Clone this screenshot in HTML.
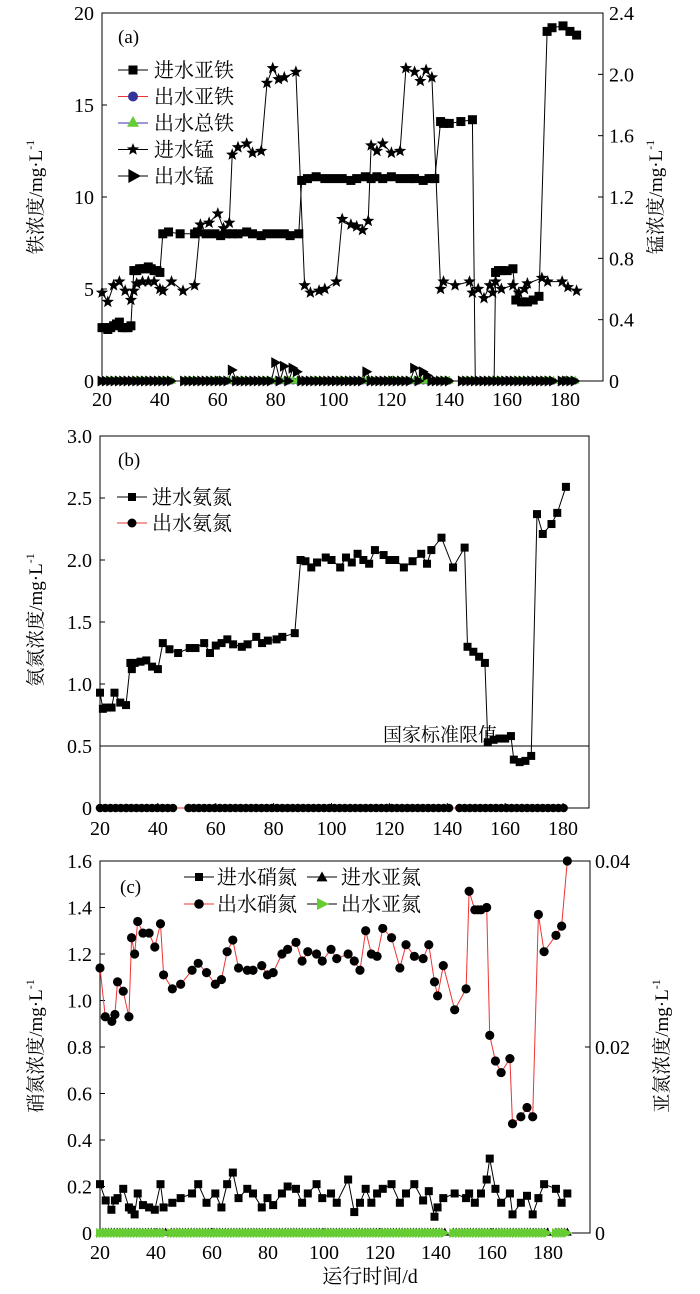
<!DOCTYPE html>
<html><head><meta charset="utf-8"><style>
body{margin:0;background:#fff}
svg{display:block}
text{font-family:"Liberation Serif","Noto Serif CJK SC",serif;fill:#000}
.cj{font-family:"Liberation Serif","Noto Serif CJK SC","Noto Sans CJK SC",serif}
</style></head><body>
<svg id="s" width="700" height="1294" viewBox="0 0 700 1294" xmlns="http://www.w3.org/2000/svg"></svg>
<script>
const S=document.getElementById('s');let h='';
function L(x1,y1,x2,y2,c='#000',w=1){h+=`<line x1="${x1}" y1="${y1}" x2="${x2}" y2="${y2}" stroke="${c}" stroke-width="${w}"/>`;}
function T(x,y,t,sz=18,a='middle',ex=''){h+=`<text x="${x}" y="${y}" font-size="${sz}" text-anchor="${a}" ${ex}>${t}</text>`;}
function poly(pts,c='#000',w=1){h+=`<polyline points="${pts.map(p=>p[0].toFixed(1)+','+p[1].toFixed(1)).join(' ')}" fill="none" stroke="${c}" stroke-width="${w}"/>`;}
function sq(x,y,s=9,c='#000'){h+=`<rect x="${x-s/2}" y="${y-s/2}" width="${s}" height="${s}" fill="${c}"/>`;}
function ci(x,y,r=4.3,c='#000'){h+=`<circle cx="${x}" cy="${y}" r="${r}" fill="${c}"/>`;}
function star(x,y,r=6.5){let p=[];for(let i=0;i<10;i++){let a=-Math.PI/2+i*Math.PI/5,rr=i%2?r*0.42:r;p.push((x+rr*Math.cos(a)).toFixed(1)+','+(y+rr*Math.sin(a)).toFixed(1));}h+=`<polygon points="${p.join(' ')}" fill="#000"/>`;}
function tri(x,y,s=5,c='#6c3'){h+=`<polygon points="${x},${y-s} ${x+s},${y+s*0.8} ${x-s},${y+s*0.8}" fill="${c}"/>`;}
function rtri(x,y,s=5.5,c='#000'){h+=`<polygon points="${x-s*0.8},${y-s} ${x+s},${y} ${x-s*0.8},${y+s}" fill="${c}"/>`;}
function ylab(x,y,t){h+=`<text class="cj" x="${x}" y="${y}" font-size="19" text-anchor="middle" transform="rotate(-90 ${x} ${y})">${t}/mg·L<tspan font-size="12" dy="-8">-1</tspan></text>`;}

/* ---------- Panel a ---------- */
{const X0=102,X1=603,Y0=381,Y1=13;const xd=d=>X0+(d-20)*2.894,yv=v=>Y0-v*18.4;
h+=`<rect x="${X0}" y="${Y1}" width="${X1-X0}" height="${Y0-Y1}" fill="none" stroke="#000"/>`;
for(let v=0;v<=20;v+=5){L(X0,yv(v),X0+5,yv(v));T(X0-8,yv(v)+7,v,20,'end');}
for(let i=0;i<=6;i++){let y=Y0-i*(Y0-Y1)/6;L(X1-5,y,X1,y);T(X1+6,y+7,i==0?'0':(i*0.4).toFixed(1),20,'start');}
for(let d=20;d<=180;d+=20){L(xd(d),Y0,xd(d),Y0-5);T(xd(d),Y0+25,d,20);}
// bottom markers
let bd=[];for(let d=20;d<=184;d+=1.5){if((d>44&&d<48)||(d>140&&d<144)||(d>176&&d<178))continue;bd.push(d);}
poly(bd.map(d=>[xd(d),yv(0)]),'#33a',1);
bd.forEach(d=>ci(xd(d),yv(0),3.5,'#339'));
bd.forEach(d=>tri(xd(d),yv(0)-1,4.5));
const mnE={65:0.6,78:1.2,80:1.0,83:0.8,86:0.7,88:0.5,112:0.5,126:0.9,128:0.7,131:0.5,133:0.3};
let mp=bd.map(d=>{let k=Math.round(d);return [xd(d),yv(mnE[k]||0)]});
poly(mp);mp.forEach(p=>rtri(p[0],p[1]));
// Fe influent
const fe=[[20,2.9],[21,2.9],[22,2.8],[23,2.9],[24,3.0],[25,3.1],[26,3.2],[27,2.9],[28,2.9],[29,2.9],[30,3.0],[31,6.0],[32,6.0],[33,6.1],[34,6.1],[35,6.1],[36,6.2],[37,6.1],[38,6.0],[39,6.0],[40,5.9],[41,8.0],[43,8.1],[47,8.0],[52,8.0],[53,8.1],[56,8.0],[59,8.0],[61,7.9],[63,8.0],[65,8.0],[67,8.0],[70,8.1],[72,8.0],[75,7.9],[77,8.0],[80,8.0],[83,8.0],[85,7.9],[88,8.0],[89,10.9],[91,11.0],[94,11.1],[97,11.0],[100,11.0],[103,11.0],[106,10.9],[108,11.0],[111,11.1],[113,11.0],[115,11.1],[117,11.0],[120,11.1],[123,11.0],[126,11.0],[128,11.0],[131,10.9],[133,11.0],[135,11.0],[137,14.1],[138,14.0],[140,14.0],[144,14.1],[148,14.2],[149,0],[155.5,0],[156,5.9],[157,6.0],[158,6.0],[160,6.0],[162,6.1],[163,4.4],[165,4.3],[167,4.3],[169,4.4],[171,4.6],[173.8,19.0],[175.5,19.2],[179.3,19.3],[181.7,19.0],[184,18.8]];
poly(fe.map(p=>[xd(p[0]),yv(p[1])]));fe.forEach(p=>{if(p[1]>0)sq(xd(p[0]),yv(p[1]))});
const mn=[[20,4.8],[22,4.3],[24,5.2],[26,5.4],[28,4.9],[30,4.4],[31,4.9],[32,5.3],[34,5.4],[36,5.4],[38,5.4],[40,5.0],[41,4.9],[44,5.4],[48,4.9],[52,5.2],[54,8.5],[57,8.6],[60,9.1],[62,8.3],[64,8.6],[65,12.3],[67,12.7],[70,12.9],[72,12.4],[75,12.5],[77,16.2],[79,17.0],[81,16.4],[83,16.5],[87,16.8],[90,5.2],[92,4.8],[95,4.9],[97,5.0],[101,5.4],[103,8.8],[106,8.5],[108,8.4],[110,8.2],[112,8.7],[113,12.8],[115,12.5],[117,12.9],[120,12.4],[123,12.5],[125,17.0],[128,16.8],[130,16.3],[132,16.9],[134,16.5],[137,5.0],[138,5.4],[142,5.2],[147,5.4],[148,4.8],[150,5.0],[152,4.5],[154,5.2],[155,4.8],[156,5.4],[158,5.0],[162,5.2],[164,4.8],[166,5.0],[167,5.3],[172,5.6],[174,5.4],[179,5.4],[181,5.1],[184,4.9]];
poly(mn.map(p=>[xd(p[0]),yv(p[1])]));mn.forEach(p=>star(xd(p[0]),yv(p[1])));
T(118,43,'(a)',19,'start');
const lg=[['进水亚铁','#000','sq'],['出水亚铁','#e33','ci'],['出水总铁','#33a','tri'],['进水锰','#000','star'],['出水锰','#000','rtri']];
lg.forEach((g,i)=>{let y=70+i*26.5;L(118,y,148,y,g[1]);let m=g[2];
 if(m=='sq')sq(133,y);if(m=='ci')ci(133,y,5,'#339');if(m=='tri')tri(133,y-1,6);if(m=='star')star(133,y);if(m=='rtri')rtri(134,y,7);
 h+=`<text class="cj" x="154" y="${y+7}" font-size="20">${g[0]}</text>`;});
ylab(42,197,'铁浓度');ylab(662,197,'锰浓度');
}
/* ---------- Panel b ---------- */
{const X0=100,X1=589,Y0=808,Y1=436;const xd=d=>X0+(d-20)*2.894,yv=v=>Y0-v*124;
h+=`<rect x="${X0}" y="${Y1}" width="${X1-X0}" height="${Y0-Y1}" fill="none" stroke="#000"/>`;
for(let v=0;v<=3.001;v+=0.5){L(X0,yv(v),X0+5,yv(v));T(X0-8,yv(v)+7,v==0?'0':v.toFixed(1),20,'end');}
for(let d=20;d<=180;d+=20){L(xd(d),Y0,xd(d),Y0-5);T(xd(d),Y0+27,d,20);}
L(X0,yv(0.5),X1,yv(0.5));h+=`<text class="cj" x="497" y="741" font-size="19" text-anchor="end">国家标准限值</text>`;
let bd=[];for(let d=20;d<=182;d+=1.8){if((d>46&&d<49)||(d>141&&d<143))continue;bd.push(d);}
poly(bd.map(d=>[xd(d),yv(0)]),'#e33');bd.forEach(d=>ci(xd(d),yv(0),4.3));
const nh=[[20,0.93],[21,0.80],[22,0.81],[24,0.81],[25,0.93],[27,0.85],[29,0.83],[30.5,1.17],[31,1.12],[32,1.17],[34,1.18],[36,1.19],[38,1.14],[40,1.12],[41.7,1.33],[44,1.28],[47,1.25],[51,1.29],[53,1.29],[56,1.33],[58,1.25],[60,1.31],[62,1.33],[64,1.36],[66,1.32],[69,1.30],[71,1.32],[74,1.38],[76,1.33],[78,1.35],[81,1.36],[83,1.38],[87.3,1.41],[89.3,2.00],[91,1.99],[93,1.94],[95,1.98],[98,2.02],[100,2.00],[103,1.94],[105,2.02],[107,1.98],[109,2.05],[111,2.00],[113,1.97],[115,2.08],[118,2.04],[120,2.00],[122,2.00],[125,1.94],[128,1.99],[131,2.05],[133,1.97],[134.5,2.08],[138,2.18],[142,1.94],[146,2.10],[147,1.30],[149,1.26],[151,1.22],[153,1.17],[154,0.53],[156,0.55],[158,0.56],[160,0.56],[162,0.58],[163,0.39],[165,0.37],[167,0.38],[169,0.42],[171,2.37],[173,2.21],[176,2.29],[178,2.38],[181,2.59]];
poly(nh.map(p=>[xd(p[0]),yv(p[1])]));nh.forEach(p=>sq(xd(p[0]),yv(p[1]),8));
T(118,466,'(b)',19,'start');
L(117,497,147,497);sq(132,497,8);h+=`<text class="cj" x="152" y="504" font-size="20">进水氨氮</text>`;
L(117,523,147,523,'#e33');ci(132,523,4.5);h+=`<text class="cj" x="152" y="530" font-size="20">出水氨氮</text>`;
ylab(42,620,'氨氮浓度');
}
/* ---------- Panel c ---------- */
{const X0=100,X1=590,Y0=1233,Y1=861;const xz=z=>X0+(z-228)*0.4384,yv=v=>Y0-v*232.5;
h+=`<rect x="${X0}" y="${Y1}" width="${X1-X0}" height="${Y0-Y1}" fill="none" stroke="#000"/>`;
for(let i=0;i<=8;i++){let v=i*0.2;L(X0,yv(v),X0+5,yv(v));T(X0-8,yv(v)+7,i==0?'0':v.toFixed(1),20,'end');}
[[0,'0'],[0.8,'0.02'],[1.6,'0.04']].forEach(a=>{L(X1-5,yv(a[0]),X1,yv(a[0]));T(X1+5,yv(a[0])+7,a[1],20,'start');});
for(let d=20;d<=180;d+=20){let x=100+(d-20)*2.8;L(x,Y0,x,Y0-5);T(x,Y0+26,d,20);}
let bz=[];for(let z=228;z<=1296;z+=6.5){if((z>380&&z<388)||(z>1020&&z<1030)||(z>1250&&z<1262))continue;bz.push(z);}
poly(bz.map(z=>[xz(z),yv(0)]),'#000');bz.forEach(z=>tri(xz(z),yv(0)-1,4.5,'#000'));
poly(bz.map(z=>[xz(z),yv(0)]),'#6c3');bz.forEach(z=>{let x=xz(z),y=yv(0);h+=`<polygon points="${x-4},${y-5} ${x+5},${y} ${x-4},${y+5}" fill="#6c3"/>`;});
const en=[[228,1.14],[240,0.93],[255,0.91],[262,0.94],[268,1.08],[281,1.04],[294,0.93],[300,1.27],[307,1.20],[314,1.34],[326,1.29],[340,1.29],[353,1.23],[366,1.33],[373,1.11],[393,1.05],[412,1.07],[438,1.13],[452,1.16],[471,1.12],[491,1.07],[505,1.09],[518,1.21],[531,1.26],[544,1.14],[564,1.13],[577,1.13],[597,1.15],[610,1.11],[623,1.12],[643,1.20],[656,1.22],[675,1.25],[689,1.17],[702,1.21],[722,1.20],[735,1.17],[755,1.22],[768,1.18],[794,1.20],[808,1.17],[821,1.13],[834,1.30],[847,1.20],[860,1.19],[873,1.31],[893,1.27],[912,1.14],[926,1.24],[945,1.19],[965,1.18],[978,1.24],[991,1.08],[998,1.02],[1011,1.15],[1037,0.96],[1063,1.05],[1070,1.47],[1083,1.39],[1090,1.39],[1097,1.39],[1110,1.40],[1117,0.85],[1130,0.74],[1143,0.69],[1163,0.75],[1169,0.47],[1188,0.50],[1202,0.54],[1215,0.50],[1228,1.37],[1241,1.21],[1268,1.28],[1281,1.32],[1294,1.60]];
const inn=[[228,0.21],[241,0.14],[254,0.10],[262,0.14],[268,0.15],[281,0.19],[294,0.11],[300,0.10],[307,0.08],[314,0.17],[326,0.12],[340,0.11],[353,0.10],[366,0.21],[373,0.11],[393,0.13],[412,0.15],[438,0.17],[452,0.21],[471,0.13],[491,0.17],[505,0.11],[518,0.21],[531,0.26],[544,0.15],[564,0.19],[577,0.17],[597,0.11],[610,0.15],[623,0.12],[643,0.17],[656,0.20],[675,0.19],[689,0.13],[702,0.17],[722,0.21],[735,0.15],[755,0.17],[768,0.13],[794,0.23],[808,0.09],[821,0.13],[834,0.19],[847,0.13],[860,0.17],[873,0.19],[893,0.21],[912,0.13],[926,0.17],[945,0.21],[965,0.14],[978,0.18],[991,0.07],[998,0.11],[1011,0.15],[1037,0.17],[1063,0.15],[1070,0.17],[1083,0.13],[1097,0.17],[1110,0.23],[1117,0.32],[1130,0.19],[1143,0.13],[1163,0.17],[1169,0.08],[1188,0.13],[1202,0.16],[1215,0.08],[1228,0.15],[1241,0.21],[1268,0.19],[1281,0.13],[1294,0.17]];
poly(inn.map(p=>[xz(p[0]),yv(p[1])]));inn.forEach(p=>sq(xz(p[0]),yv(p[1]),8));
poly(en.map(p=>[xz(p[0]),yv(p[1])]),'#e33');en.forEach(p=>ci(xz(p[0]),yv(p[1]),4.6));
T(120,893,'(c)',19,'start');
L(184,877,214,877);sq(199,877,8);h+=`<text class="cj" x="217" y="884" font-size="20">进水硝氮</text>`;
L(307,877,337,877);tri(322,877,5.5,'#000');h+=`<text class="cj" x="341" y="884" font-size="20">进水亚氮</text>`;
L(184,904,214,904,'#e33');ci(199,904,4.8);h+=`<text class="cj" x="217" y="911" font-size="20">出水硝氮</text>`;
L(307,904,337,904);h+=`<polygon points="317,898 329,904 317,910" fill="#6c3"/>`;h+=`<text class="cj" x="341" y="911" font-size="20">出水亚氮</text>`;
ylab(42,1046,'硝氮浓度');ylab(668,1046,'亚氮浓度');
h+=`<text class="cj" x="370" y="1283" font-size="20" text-anchor="middle">运行时间/d</text>`;
}
S.innerHTML=h;
</script>
</body></html>
